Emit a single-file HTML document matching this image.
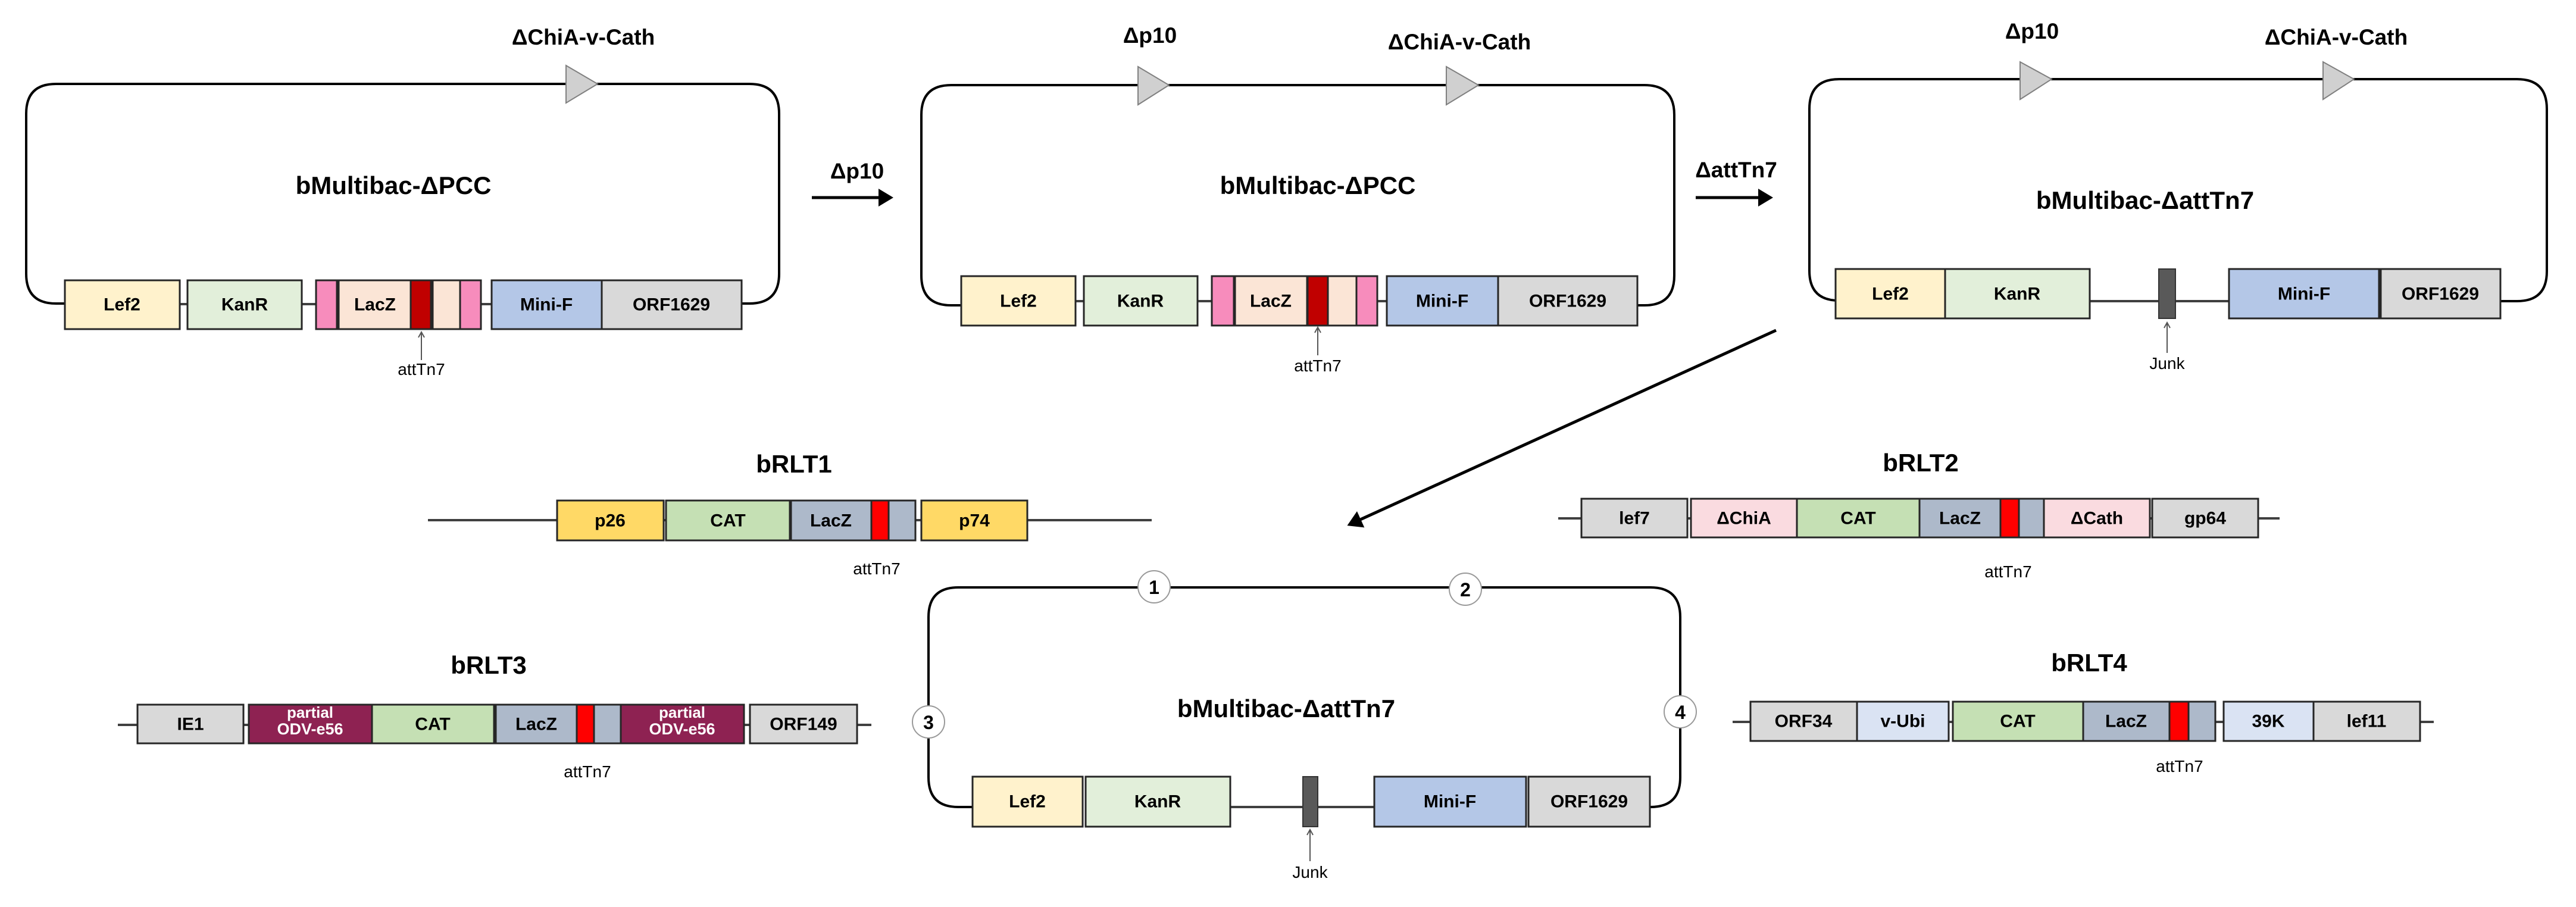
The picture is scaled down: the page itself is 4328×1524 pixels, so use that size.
<!DOCTYPE html>
<html><head><meta charset="utf-8"><style>
html,body{margin:0;padding:0;background:#fff;}
svg{display:block;}
text{font-family:"Liberation Sans",sans-serif;}
.t{font-weight:bold;font-size:42px;text-anchor:middle;}
.s{font-weight:bold;font-size:37px;text-anchor:middle;}
.b{font-weight:bold;font-size:30px;text-anchor:middle;dominant-baseline:central;}
.a{font-size:28px;text-anchor:middle;}
.bx{stroke:#262626;stroke-width:3;}
.ln{stroke:#404040;stroke-width:4;fill:none;}
.lp{stroke:#000;stroke-width:4;fill:none;}
</style></head><body>
<svg width="4328" height="1524" viewBox="0 0 4328 1524" xmlns="http://www.w3.org/2000/svg">
<defs>
<marker id="big" markerWidth="6" markerHeight="6" refX="4" refY="3" orient="auto" markerUnits="strokeWidth"><path d="M0,0 L5,3 L0,6 z" fill="#000"/></marker>
<marker id="sm" markerWidth="12" markerHeight="12" refX="10" refY="6" orient="auto" markerUnits="userSpaceOnUse"><path d="M1,1 L10,6 L1,11" fill="none" stroke="#555" stroke-width="2"/></marker>
</defs>

<!-- ===== Panel 1 ===== -->
<path class="lp" d="M109,510 L94,510 Q44,510 44,460 L44,191 Q44,141 94,141 L1259,141 Q1309,141 1309,191 L1309,460 Q1309,510 1259,510 L1246,510"/>
<line class="ln" x1="109" y1="511" x2="826" y2="511"/>
<polygon points="951,110 1004,141 951,173" fill="#d0d0d0" stroke="#808080" stroke-width="2"/>
<text class="s" x="980" y="75">ΔChiA-v-Cath</text>
<text class="t" x="661" y="326">bMultibac-ΔPCC</text>
<rect class="bx" x="109" y="471" width="193" height="82" fill="#fff2cc"/><text class="b" x="205" y="512">Lef2</text>
<rect class="bx" x="315" y="471" width="192" height="82" fill="#e2efda"/><text class="b" x="411" y="512">KanR</text>
<rect class="bx" x="531" y="471" width="35" height="82" fill="#f78cbc"/>
<rect class="bx" x="569" y="471" width="121" height="82" fill="#fbe5d6"/><text class="b" x="630" y="512">LacZ</text>
<rect class="bx" x="690" y="471" width="34" height="82" fill="#c00000"/>
<rect class="bx" x="727" y="471" width="46" height="82" fill="#fbe5d6"/>
<rect class="bx" x="773" y="471" width="35" height="82" fill="#f78cbc"/>
<rect class="bx" x="826" y="471" width="185" height="82" fill="#b4c7e7"/><text class="b" x="918" y="512">Mini-F</text>
<rect class="bx" x="1011" y="471" width="235" height="82" fill="#d9d9d9"/><text class="b" x="1128" y="512">ORF1629</text>
<line x1="708" y1="605" x2="708" y2="558" stroke="#555" stroke-width="2" marker-end="url(#sm)"/>
<text class="a" x="708" y="630">attTn7</text>

<!-- arrow Δp10 -->
<line x1="1364" y1="332" x2="1496" y2="332" stroke="#000" stroke-width="5" marker-end="url(#big)"/>
<text class="s" x="1440" y="300">Δp10</text>

<!-- ===== Panel 2 ===== -->
<path class="lp" d="M1615,513 L1598,513 Q1548,513 1548,463 L1548,193 Q1548,143 1598,143 L2763,143 Q2813,143 2813,193 L2813,463 Q2813,513 2763,513 L2751,513"/>
<line class="ln" x1="1615" y1="506" x2="2330" y2="506"/>
<polygon points="1912,112 1964,143 1912,176" fill="#d0d0d0" stroke="#808080" stroke-width="2"/>
<polygon points="2430,112 2484,143 2430,176" fill="#d0d0d0" stroke="#808080" stroke-width="2"/>
<text class="s" x="1932" y="72">Δp10</text>
<text class="s" x="2452" y="83">ΔChiA-v-Cath</text>
<text class="t" x="2214" y="326">bMultibac-ΔPCC</text>
<rect class="bx" x="1615" y="464" width="192" height="83" fill="#fff2cc"/><text class="b" x="1711" y="506">Lef2</text>
<rect class="bx" x="1821" y="464" width="191" height="83" fill="#e2efda"/><text class="b" x="1916" y="506">KanR</text>
<rect class="bx" x="2036" y="464" width="37" height="83" fill="#f78cbc"/>
<rect class="bx" x="2075" y="464" width="121" height="83" fill="#fbe5d6"/><text class="b" x="2135" y="506">LacZ</text>
<rect class="bx" x="2197" y="464" width="34" height="83" fill="#c00000"/>
<rect class="bx" x="2231" y="464" width="48" height="83" fill="#fbe5d6"/>
<rect class="bx" x="2279" y="464" width="35" height="83" fill="#f78cbc"/>
<rect class="bx" x="2330" y="464" width="187" height="83" fill="#b4c7e7"/><text class="b" x="2423" y="506">Mini-F</text>
<rect class="bx" x="2517" y="464" width="234" height="83" fill="#d9d9d9"/><text class="b" x="2634" y="506">ORF1629</text>
<line x1="2214" y1="597" x2="2214" y2="550" stroke="#555" stroke-width="2" marker-end="url(#sm)"/>
<text class="a" x="2214" y="624">attTn7</text>

<!-- arrow ΔattTn7 -->
<line x1="2849" y1="332" x2="2974" y2="332" stroke="#000" stroke-width="5" marker-end="url(#big)"/>
<text class="s" x="2917" y="298">ΔattTn7</text>

<!-- ===== Panel 3 ===== -->
<path class="lp" d="M3084,505 L3090,505 Q3040,505 3040,455 L3040,183 Q3040,133 3090,133 L4229,133 Q4279,133 4279,183 L4279,456 Q4279,506 4229,506 L4201,506"/>
<line class="ln" x1="3511" y1="506" x2="3745" y2="506"/>
<polygon points="3394,104 3447,133 3394,167" fill="#d0d0d0" stroke="#808080" stroke-width="2"/>
<polygon points="3903,104 3955,133 3903,167" fill="#d0d0d0" stroke="#808080" stroke-width="2"/>
<text class="s" x="3414" y="65">Δp10</text>
<text class="s" x="3925" y="75">ΔChiA-v-Cath</text>
<text class="t" x="3604" y="351">bMultibac-ΔattTn7</text>
<rect class="bx" x="3084" y="452" width="184" height="83" fill="#fff2cc"/><text class="b" x="3176" y="494">Lef2</text>
<rect class="bx" x="3268" y="452" width="243" height="83" fill="#e2efda"/><text class="b" x="3389" y="494">KanR</text>
<rect x="3627" y="452" width="28" height="83" fill="#595959" stroke="#333" stroke-width="2"/>
<rect class="bx" x="3745" y="452" width="252" height="83" fill="#b4c7e7"/><text class="b" x="3871" y="494">Mini-F</text>
<rect class="bx" x="4000" y="452" width="201" height="83" fill="#d9d9d9"/><text class="b" x="4100" y="494">ORF1629</text>
<line x1="3641" y1="593" x2="3641" y2="542" stroke="#555" stroke-width="2" marker-end="url(#sm)"/>
<text class="a" x="3641" y="620">Junk</text>

<!-- diagonal arrow -->
<line x1="2984" y1="555" x2="2268" y2="881" stroke="#000" stroke-width="5" marker-end="url(#big)"/>

<!-- ===== bRLT1 ===== -->
<text class="t" x="1334" y="794">bRLT1</text>
<line class="ln" x1="719" y1="874" x2="1935" y2="874"/>
<rect class="bx" x="936" y="841" width="179" height="67" fill="#ffd966"/><text class="b" x="1025" y="875">p26</text>
<rect class="bx" x="1119" y="841" width="208" height="67" fill="#c5e0b4"/><text class="b" x="1223" y="875">CAT</text>
<rect class="bx" x="1329" y="841" width="135" height="67" fill="#adb9ca"/><text class="b" x="1396" y="875">LacZ</text>
<rect class="bx" x="1464" y="841" width="29" height="67" fill="#ff0000"/>
<rect class="bx" x="1493" y="841" width="45" height="67" fill="#adb9ca"/>
<rect class="bx" x="1548" y="841" width="178" height="67" fill="#ffd966"/><text class="b" x="1637" y="875">p74</text>
<text class="a" x="1473" y="965">attTn7</text>

<!-- ===== bRLT2 ===== -->
<text class="t" x="3227" y="792">bRLT2</text>
<line class="ln" x1="2618" y1="871" x2="3830" y2="871"/>
<rect class="bx" x="2657" y="838" width="178" height="65" fill="#d9d9d9"/><text class="b" x="2746" y="871">lef7</text>
<rect class="bx" x="2841" y="838" width="178" height="65" fill="#fadbe0"/><text class="b" x="2930" y="871">ΔChiA</text>
<rect class="bx" x="3019" y="838" width="206" height="65" fill="#c5e0b4"/><text class="b" x="3122" y="871">CAT</text>
<rect class="bx" x="3225" y="838" width="136" height="65" fill="#adb9ca"/><text class="b" x="3293" y="871">LacZ</text>
<rect class="bx" x="3361" y="838" width="31" height="65" fill="#ff0000"/>
<rect class="bx" x="3392" y="838" width="42" height="65" fill="#adb9ca"/>
<rect class="bx" x="3434" y="838" width="178" height="65" fill="#fadbe0"/><text class="b" x="3523" y="871">ΔCath</text>
<rect class="bx" x="3616" y="838" width="178" height="65" fill="#d9d9d9"/><text class="b" x="3705" y="871">gp64</text>
<text class="a" x="3374" y="970">attTn7</text>

<!-- ===== bRLT3 ===== -->
<text class="t" x="821" y="1132">bRLT3</text>
<line class="ln" x1="198" y1="1218" x2="1464" y2="1218"/>
<rect class="bx" x="231" y="1184" width="178" height="65" fill="#d9d9d9"/><text class="b" x="320" y="1217">IE1</text>
<rect class="bx" x="418" y="1184" width="207" height="65" fill="#8e2252"/>
<text x="521" y="1206" fill="#fff" font-weight="bold" font-size="26" text-anchor="middle">partial</text>
<text x="521" y="1234" fill="#fff" font-weight="bold" font-size="27" text-anchor="middle">ODV-e56</text>
<rect class="bx" x="625" y="1184" width="205" height="65" fill="#c5e0b4"/><text class="b" x="727" y="1217">CAT</text>
<rect class="bx" x="833" y="1184" width="136" height="65" fill="#adb9ca"/><text class="b" x="901" y="1217">LacZ</text>
<rect class="bx" x="969" y="1184" width="29" height="65" fill="#ff0000"/>
<rect class="bx" x="998" y="1184" width="45" height="65" fill="#adb9ca"/>
<rect class="bx" x="1043" y="1184" width="207" height="65" fill="#8e2252"/>
<text x="1146" y="1206" fill="#fff" font-weight="bold" font-size="26" text-anchor="middle">partial</text>
<text x="1146" y="1234" fill="#fff" font-weight="bold" font-size="27" text-anchor="middle">ODV-e56</text>
<rect class="bx" x="1260" y="1184" width="180" height="65" fill="#d9d9d9"/><text class="b" x="1350" y="1217">ORF149</text>
<text class="a" x="987" y="1306">attTn7</text>

<!-- ===== bRLT4 ===== -->
<text class="t" x="3510" y="1128">bRLT4</text>
<line class="ln" x1="2911" y1="1213" x2="4089" y2="1213"/>
<rect class="bx" x="2941" y="1179" width="179" height="66" fill="#d9d9d9"/><text class="b" x="3030" y="1212">ORF34</text>
<rect class="bx" x="3120" y="1179" width="154" height="66" fill="#dae3f3"/><text class="b" x="3197" y="1212">v-Ubi</text>
<rect class="bx" x="3281" y="1179" width="219" height="66" fill="#c5e0b4"/><text class="b" x="3390" y="1212">CAT</text>
<rect class="bx" x="3500" y="1179" width="145" height="66" fill="#adb9ca"/><text class="b" x="3572" y="1212">LacZ</text>
<rect class="bx" x="3645" y="1179" width="32" height="66" fill="#ff0000"/>
<rect class="bx" x="3677" y="1179" width="45" height="66" fill="#adb9ca"/>
<rect class="bx" x="3736" y="1179" width="151" height="66" fill="#dae3f3"/><text class="b" x="3811" y="1212">39K</text>
<rect class="bx" x="3887" y="1179" width="179" height="66" fill="#d9d9d9"/><text class="b" x="3976" y="1212">lef11</text>
<text class="a" x="3662" y="1297">attTn7</text>

<!-- ===== Bottom loop ===== -->
<path class="lp" d="M1634,1356 L1610,1356 Q1560,1356 1560,1306 L1560,1037 Q1560,987 1610,987 L2773,987 Q2823,987 2823,1037 L2823,1306 Q2823,1356 2773,1356 L2772,1356"/>
<line class="ln" x1="2067" y1="1356" x2="2309" y2="1356"/>
<text class="t" x="2161" y="1205">bMultibac-ΔattTn7</text>
<rect class="bx" x="1634" y="1305" width="185" height="84" fill="#fff2cc"/><text class="b" x="1726" y="1347">Lef2</text>
<rect class="bx" x="1824" y="1305" width="243" height="84" fill="#e2efda"/><text class="b" x="1945" y="1347">KanR</text>
<rect x="2189" y="1305" width="25" height="84" fill="#595959" stroke="#333" stroke-width="2"/>
<rect class="bx" x="2309" y="1305" width="255" height="84" fill="#b4c7e7"/><text class="b" x="2436" y="1347">Mini-F</text>
<rect class="bx" x="2568" y="1305" width="204" height="84" fill="#d9d9d9"/><text class="b" x="2670" y="1347">ORF1629</text>
<line x1="2201" y1="1447" x2="2201" y2="1394" stroke="#555" stroke-width="2" marker-end="url(#sm)"/>
<text class="a" x="2201" y="1475">Junk</text>
<g stroke="#999" stroke-width="2" fill="#fff">
<circle cx="1939" cy="986" r="27"/><circle cx="2462" cy="990" r="27"/>
<circle cx="1560" cy="1213" r="27"/><circle cx="2823" cy="1196" r="27"/>
</g>
<g font-weight="bold" font-size="32" text-anchor="middle">
<text x="1939" y="998">1</text><text x="2462" y="1002">2</text>
<text x="1560" y="1225">3</text><text x="2823" y="1208">4</text>
</g>
</svg>
</body></html>
